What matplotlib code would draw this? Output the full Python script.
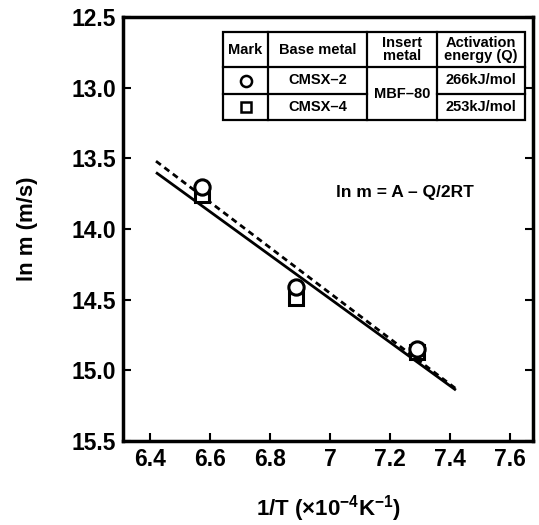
import matplotlib
matplotlib.use("Agg")
import matplotlib.pyplot as plt
from matplotlib.lines import Line2D
from matplotlib.patches import Rectangle

plt.rcParams['font.family'] = ['Liberation Sans', 'DejaVu Sans']
plt.rcParams['font.weight'] = 'bold'
plt.rcParams['mathtext.fontset'] = 'custom'
plt.rcParams['mathtext.rm'] = 'Liberation Sans:bold'
plt.rcParams['mathtext.bf'] = 'Liberation Sans:bold'
plt.rcParams['mathtext.default'] = 'bf'

# Data
x_cmsx2 = [6.575, 6.888, 7.29]
y_cmsx2 = [13.705, 14.41, 14.85]
x_cmsx4 = [6.575, 6.888, 7.29]
y_cmsx4 = [13.76, 14.49, 14.87]
fit2_x = [6.42, 7.42]
fit2_y = [13.52, 15.13]   # dashed (CMSX-2)
fit4_x = [6.42, 7.42]
fit4_y = [13.60, 15.14]   # solid (CMSX-4)

xticks = [6.4, 6.6, 6.8, 7.0, 7.2, 7.4, 7.6]
xticklabels = ['6.4', '6.6', '6.8', '7', '7.2', '7.4', '7.6']
yticks = [12.5, 13.0, 13.5, 14.0, 14.5, 15.0, 15.5]
yticklabels = ['12.5', '13.0', '13.5', '14.0', '14.5', '15.0', '15.5']

W, H = 539, 525
fig = plt.figure(figsize=(W / 100, H / 100), dpi=100)
ax = fig.add_axes([123 / W, 1 - 441 / H, (533 - 123) / W, (441 - 17) / H])

ax.plot(fit4_x, fit4_y, color='black', lw=2.0, solid_capstyle='butt')
ax.plot(fit2_x, fit2_y, color='black', lw=2.0, ls=(0, (2.2, 1.6)))
ax.plot(x_cmsx2, y_cmsx2, 'o', ms=11, mfc='white', mec='black', mew=2.2, zorder=4)
ax.plot(x_cmsx4, y_cmsx4, 's', ms=10, mfc='white', mec='black', mew=2.2, zorder=3)

ax.set_xlim(6.31, 7.677)
ax.set_ylim(15.5, 12.5)
ax.set_xticks(xticks)
ax.set_xticklabels(xticklabels)
ax.set_yticks(yticks)
ax.set_yticklabels(yticklabels)
ax.tick_params(direction='in', length=6, width=1.5, labelsize=16.5, right=True, pad=5)
for s in ax.spines.values():
    s.set_linewidth(2.5)

ax.set_ylabel('ln m (m/s)', fontsize=16, fontweight='bold', labelpad=24)
ax.set_xlabel('1/T (' + '\u00d7' + r'10$^{-4}$K$^{-1}$)', fontsize=16, fontweight='bold',
              labelpad=16)

def fx(x):
    return x / W

def fy(y):
    return 1 - y / H

fig.text(fx(405), fy(193), 'ln m = A – Q/2RT', fontsize=12.5, fontweight='bold',
         ha='center', va='center')

# Table
cols = [223, 268, 367, 437, 525]
rows = [32, 67, 94, 120]
lw = 1.6
fig.patches.append(Rectangle((fx(cols[0]), fy(rows[3])), fx(cols[4]) - fx(cols[0]),
                             fy(rows[0]) - fy(rows[3]), transform=fig.transFigure,
                             fill=True, facecolor='white', edgecolor='black', lw=lw, zorder=5))
for c in cols[1:4]:
    fig.add_artist(Line2D([fx(c), fx(c)], [fy(rows[0]), fy(rows[3])], color='black', lw=lw,
                          transform=fig.transFigure, zorder=6))
fig.add_artist(Line2D([fx(cols[0]), fx(cols[4])], [fy(rows[1]), fy(rows[1])], color='black',
                      lw=lw, transform=fig.transFigure, zorder=6))
for a, b in [(cols[0], cols[2]), (cols[3], cols[4])]:
    fig.add_artist(Line2D([fx(a), fx(b)], [fy(rows[2]), fy(rows[2])], color='black', lw=lw,
                          transform=fig.transFigure, zorder=6))

fs = 10.5
def ctext(x, y, s):
    fig.text(fx(x), fy(y), s, fontsize=fs, fontweight='bold', ha='center', va='center',
             linespacing=0.95, zorder=7)

hy = (rows[0] + rows[1]) / 2
r1 = (rows[1] + rows[2]) / 2
r2 = (rows[2] + rows[3]) / 2
ctext((cols[0] + cols[1]) / 2, hy, 'Mark')
ctext((cols[1] + cols[2]) / 2, hy, 'Base metal')
ctext((cols[2] + cols[3]) / 2, hy, 'Insert\nmetal')
ctext((cols[3] + cols[4]) / 2, hy, 'Activation\nenergy (Q)')
ctext((cols[1] + cols[2]) / 2, r1, 'CMSX–2')
ctext((cols[1] + cols[2]) / 2, r2, 'CMSX–4')
ctext((cols[2] + cols[3]) / 2, (rows[1] + rows[3]) / 2, 'MBF–80')
ctext((cols[3] + cols[4]) / 2, r1, '266kJ/mol')
ctext((cols[3] + cols[4]) / 2, r2, '253kJ/mol')
mx = (cols[0] + cols[1]) / 2
fig.add_artist(Line2D([fx(mx)], [fy(r1)], marker='o', ms=8, mfc='white', mec='black', mew=1.8,
                      transform=fig.transFigure, zorder=7))
fig.add_artist(Line2D([fx(mx)], [fy(r2)], marker='s', ms=7.5, mfc='white', mec='black', mew=1.8,
                      transform=fig.transFigure, zorder=7))

fig.savefig('out.png', dpi=100)
